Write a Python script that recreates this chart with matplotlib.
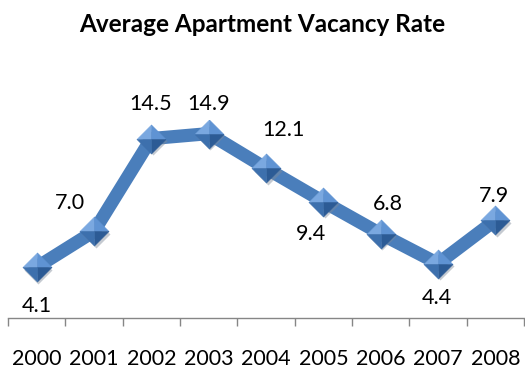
import matplotlib.pyplot as plt
from matplotlib.path import Path
from matplotlib.transforms import offset_copy

years = ['2000', '2001', '2002', '2003', '2004', '2005', '2006', '2007', '2008']
vacancy = [4.1, 7.0, 14.5, 14.9, 12.1, 9.4, 6.8, 4.4, 7.9]

# where each value label sits relative to its point (pixels, up is positive)
label_offsets = [(0, -39), (-24, 28), (-1, 35), (0, 30), (17, 38),
                 (-12, -32), (7, 30), (-1, -34), (-1, 24)]

plt.rcParams['font.family'] = ['Lato', 'DejaVu Sans']

fig = plt.figure(figsize=(5.25, 3.7), dpi=100)
ax = fig.add_axes([8 / 525, 52 / 370, 516 / 525, 198 / 370])

x = list(range(len(years)))
ax.plot(x, vacancy, color='#4a7ebb', lw=9.5, solid_joinstyle='miter', zorder=2)

# bevelled diamond markers: a soft shadow, then four shaded facets
shadow = offset_copy(ax.transData, fig=fig, x=1.5, y=-2.5, units='dots')
ax.plot(x, vacancy, ls='none', marker='D', ms=14, color='#7f8a99', alpha=0.45,
        mec='none', transform=shadow, zorder=3)
facets = [
    ([(-1, 0), (0, 1), (0, 0), (-1, 0)], '#7aa8e0'),
    ([(0, 1), (1, 0), (0, 0), (0, 1)], '#5f93d3'),
    ([(1, 0), (0, -1), (0, 0), (1, 0)], '#2c5b95'),
    ([(0, -1), (-1, 0), (0, 0), (0, -1)], '#3d70ad'),
]
for verts, col in facets:
    ax.plot(x, vacancy, ls='none', marker=Path(verts), ms=21, color=col,
            mec=col, mew=0.3, zorder=4)

for xi, v, (dx, dy) in zip(x, vacancy, label_offsets):
    ax.annotate(f'{v:.1f}', (xi, v), xytext=(dx * 0.72, dy * 0.72),
                textcoords='offset points', ha='center', va='center',
                fontsize=15.5, color='#000000')

ax.set_xlim(-0.5, len(years) - 0.5)
ax.set_ylim(0, 16)
ax.set_xticks([i - 0.5 for i in range(len(years) + 1)])
ax.set_xticklabels([])
ax.set_xticks(x, minor=True)
ax.set_xticklabels(years, minor=True, fontsize=15.5)
ax.tick_params(axis='x', which='major', length=6, width=1, color='#868686',
               direction='out')
ax.tick_params(axis='x', which='minor', length=0, pad=22)
ax.set_yticks([])
for side in ['left', 'right', 'top']:
    ax.spines[side].set_visible(False)
ax.spines['bottom'].set_color('#868686')
ax.spines['bottom'].set_linewidth(1)

fig.text(0.5, 1 - 24 / 370, 'Average Apartment Vacancy Rate', ha='center',
         va='center', fontsize=17.5, fontweight='bold')

fig.savefig('out.png', dpi=100)
